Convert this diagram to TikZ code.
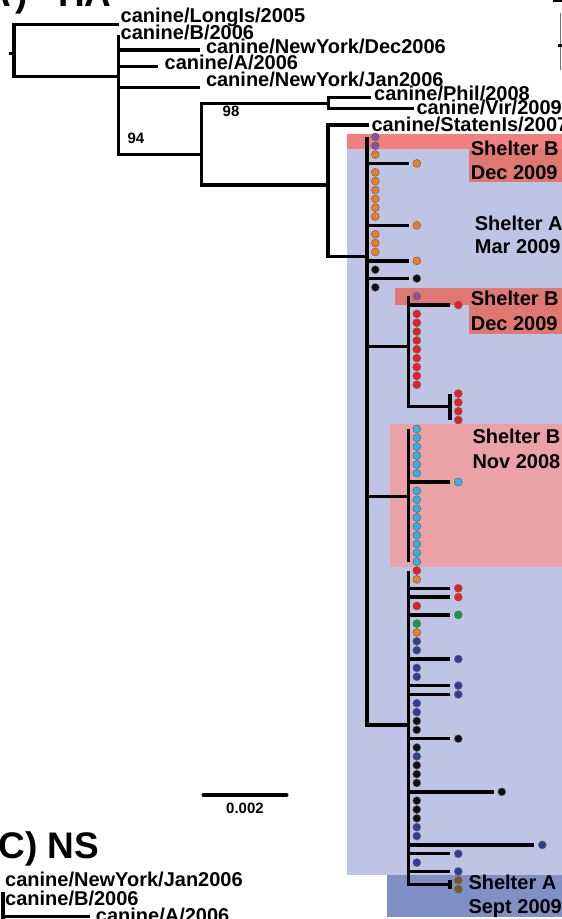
\documentclass[tikz,border=0pt]{standalone}
\usepackage{fontspec}
\setmainfont{Liberation Sans}
\usetikzlibrary{positioning,calc}
\definecolor{softblue}{RGB}{190,196,228}
\definecolor{softred}{RGB}{242,128,128}
\definecolor{midred}{RGB}{223,120,112}
\definecolor{softpink}{RGB}{235,162,167}
\definecolor{midblue}{RGB}{128,144,199}
\definecolor{dpurple}{RGB}{142,79,159}
\definecolor{dorange}{RGB}{240,124,34}
\definecolor{dred}{RGB}{237,28,36}
\definecolor{dcyan}{RGB}{45,180,228}
\definecolor{dgreen}{RGB}{26,150,72}
\definecolor{dblue}{RGB}{46,62,150}
\definecolor{dbrown}{RGB}{122,88,32}
\definecolor{dblack}{RGB}{15,15,15}

\begin{document}
\begin{tikzpicture}[x=1pt,y=-1pt,
    br/.style={line width=3.4pt},
    tip/.style={circle,draw=black!60,line width=0.5pt,minimum size=8pt,inner sep=0pt},
    lbl/.style={font=\bfseries\fontsize{20}{22}\selectfont,anchor=base west,inner sep=0pt},
    bsl/.style={font=\bfseries\fontsize{15}{17}\selectfont,inner sep=0pt},
    ttl/.style={font=\bfseries\fontsize{37}{40}\selectfont,anchor=base west,inner sep=0pt}]
  \useasboundingbox (0,0) rectangle (562,919);
  \clip (0,0) rectangle (562,919);
  % shelter regions
  \fill[softblue] (346.7,149.3) rectangle (562,875);
  \fill[softred] (346.7,134) rectangle (562,149.3);
  \fill[midred] (469,149.3) rectangle (562,181.7);
  \fill[midred] (395,288.3) rectangle (562,305);
  \fill[midred] (469,305) rectangle (562,334);
  \fill[softpink] (390,424) rectangle (562,567.3);
  \fill[midblue] (387.3,875) rectangle (562,916.7);
  % cut-off titles and panel edge
  \node[ttl] (ttlA) at (-16,6.5) {A\hspace{5pt})\hspace{30pt}HA};
  \fill (553,0) rectangle (562,1.7);
  \draw[black!55,line width=1pt] (560.7,13.3) -- (560.7,70);
  \draw[line width=3pt] (557.7,45) -- (562.5,45);
  % inner nodes
  \coordinate (rootS) at (8.5,53.3);
  \coordinate (root) at (14,53.3);
  \coordinate (nA) at (118.7,76.7);
  \coordinate (n94) at (201.4,154.3);
  \coordinate (n98) at (328.5,103.3);
  \coordinate (nX) at (328,185);
  \coordinate (nY) at (367,256.7);
  \coordinate (nZ) at (408.5,346.7);
  \coordinate (nW) at (450,406.6);
  \coordinate (nV) at (408.5,496.7);
  \coordinate (nU) at (408.5,725);
  \coordinate (nT) at (450,884.5);
  % named tips
  \coordinate (cLong) at (118.7,24.3);
  \coordinate (cB) at (118.7,35);
  \coordinate (cDec) at (199.6,50);
  \coordinate (cA) at (158,66.7);
  \coordinate (cJan) at (199.6,87.3);
  \coordinate (cPhil) at (370.5,97.3);
  \coordinate (cVir) at (413.7,108.3);
  \coordinate (cStaten) at (368.5,125);
  \draw[br] (rootS) -- (root);
  \draw[br] (root) |- (cLong);
  \draw[br] (root) |- (nA);
  \foreach \t in {cB,cDec,cA,cJan,n94} \draw[br] (nA) |- (\t);
  \draw[br] (n94) |- (n98);
  \draw[br] (n94) |- (nX);
  \draw[br] (n98) |- (cPhil);
  \draw[br] (n98) |- (cVir);
  \draw[br] (nX) |- (cStaten);
  \draw[br] (nX) |- (nY);
  \foreach \t in {nZ,nV,nU} \draw[br] (nY) |- (\t);
  \draw[br] (nZ) |- (nW);
  \draw[br] (nU) |- (nT);
  % sampled dogs, one row each
  \foreach \n/\col/\len in {0/dpurple/0,1/dpurple/0,2/dorange/0,3/dorange/41.5,4/dorange/0,5/dorange/0,6/dorange/0,7/dorange/0,8/dorange/0,9/dorange/0,10/dorange/41.5,11/dorange/0,12/dorange/0,13/dorange/0,14/dorange/41.5,15/dblack/0,16/dblack/41.5,17/dblack/0}{
    \coordinate (t\n) at ({367+\len},{136.9+8.85*\n});
    \draw[br] (nY) |- (t\n);
    \node[tip,fill=\col] (d\n) at ([xshift=8.3pt]t\n) {};
  }
  \foreach \n/\col/\len in {18/dpurple/0,19/dred/41.5,20/dred/0,21/dred/0,22/dred/0,23/dred/0,24/dred/0,25/dred/0,26/dred/0,27/dred/0,28/dred/0}{
    \coordinate (t\n) at ({408.5+\len},{136.9+8.85*\n});
    \draw[br] (nZ) |- (t\n);
    \node[tip,fill=\col] (d\n) at ([xshift=8.3pt]t\n) {};
  }
  \foreach \n in {29,...,32}{
    \coordinate (t\n) at (450,{136.9+8.85*\n});
    \draw[br] (nW) |- (t\n);
    \node[tip,fill=dred] (d\n) at ([xshift=8.3pt]t\n) {};
  }
  \foreach \n/\len in {33/0,34/0,35/0,36/0,37/0,38/0,39/41.5,40/0,41/0,42/0,43/0,44/0,45/0,46/0,47/0,48/0}{
    \coordinate (t\n) at ({408.5+\len},{136.9+8.85*\n});
    \draw[br] (nV) |- (t\n);
    \node[tip,fill=dcyan] (d\n) at ([xshift=8.3pt]t\n) {};
  }
  \foreach \n/\col/\len in {49/dred/0,50/dorange/0,51/dred/41.5,52/dred/41.5,53/dred/0,54/dgreen/41.5,55/dgreen/0,56/dorange/0,57/dblue/0,58/dblue/0,59/dblue/41.5,60/dblue/0,61/dblue/0,62/dblue/41.5,63/dblue/41.5,64/dblue/0,65/dblue/0,66/dblack/0,67/dblack/0,68/dblack/41.5,69/dblack/0,70/dblue/0,71/dblack/0,72/dblack/0,73/dblack/0,74/dblack/85,75/dblack/0,76/dblack/0,77/dblack/0,78/dblue/0,79/dblue/0,80/dblue/125.5,81/dblue/41.5,82/dblue/0,83/dblue/41.5}{
    \coordinate (t\n) at ({408.5+\len},{136.9+8.85*\n});
    \draw[br] (nU) |- (t\n);
    \node[tip,fill=\col] (d\n) at ([xshift=8.3pt]t\n) {};
  }
  \foreach \n in {84,85}{
    \coordinate (t\n) at (450,{136.9+8.85*\n});
    \draw[br] (nT) |- (t\n);
    \node[tip,fill=dbrown] (d\n) at ([xshift=8.3pt]t\n) {};
  }
  % strain names
  \node[lbl] (lLong) at (120.5,22.5) {canine/LongIs/2005};
  \node[lbl] (lB) at (120.5,39.5) {canine/B/2006};
  \node[lbl] (lDec) at (205.8,53) {canine/NewYork/Dec2006};
  \node[lbl] (lA) at (164.5,69.5) {canine/A/2006};
  \node[lbl] (lJan) at (205.8,86.5) {canine/NewYork/Jan2006};
  \node[lbl] (lPhil) at (374,100) {canine/Phil/2008};
  \node[lbl] (lVir) at (416.3,114.5) {canine/Vir/2009};
  \node[lbl] (lStaten) at (371.3,131.5) {canine/StatenIs/2007};
  \node[bsl] (bs94) at (136,138) {94};
  \node[bsl] (bs98) at (231,111.7) {98};
  % shelter labels
  \node[lbl] (shB1) at (470.7,155) {Shelter B};
  \node[lbl] (shB1d) at ([yshift=-24.3pt]shB1.base west) {Dec 2009};
  \node[lbl] (shA1) at (474.7,230) {Shelter A};
  \node[lbl] (shA1d) at ([yshift=-23.3pt]shA1.base west) {Mar 2009};
  \node[lbl] (shB2) at (470.7,305) {Shelter B};
  \node[lbl] (shB2d) at ([yshift=-25pt]shB2.base west) {Dec 2009};
  \node[lbl] (shB3) at (472.3,443.3) {Shelter B};
  \node[lbl] (shB3d) at ([yshift=-25pt]shB3.base west) {Nov 2008};
  \node[lbl] (shA2) at (468.3,889.3) {Shelter A};
  \node[lbl] (shA2d) at ([yshift=-24pt]shA2.base west) {Sept 2009};
  % scale bar
  \coordinate (sbL) at (203.3,795);
  \coordinate (sbR) at (286.7,795);
  \coordinate (sbM) at ($(sbL)!0.5!(sbR)$);
  \draw[line width=3.6pt,line cap=round] (sbL) -- (sbR);
  \node[bsl,below=8pt of sbM] (sbT) {0.002};
  % NS panel, cut at the bottom
  \node[ttl] (ttlC) at (-1.5,858.3) {C) NS};
  \coordinate (nsN) at (3,930);
  \coordinate (nsB) at (3,892);
  \coordinate (nsA) at (90,916.7);
  \draw[br] (nsN) |- (nsB);
  \draw[br] (nsN) |- (nsA);
  \node[lbl] (nsJan) at (5,886.7) {canine/NewYork/Jan2006};
  \node[lbl] (nsBl) at (5,905) {canine/B/2006};
  \node[lbl] (nsAl) at (95.7,922.3) {canine/A/2006};
\end{tikzpicture}
\end{document}
